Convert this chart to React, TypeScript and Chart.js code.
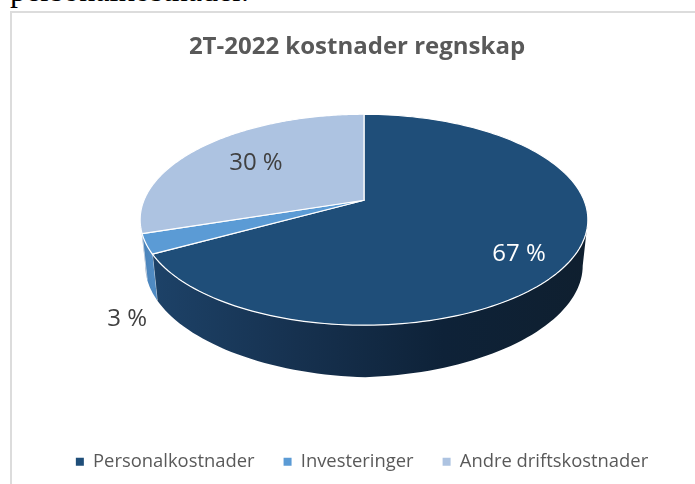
import React, { useEffect, useRef } from "react";
import { Chart, registerables } from "chart.js";

Chart.register(...registerables);

const categories = ["Personalkostnader", "Investeringer", "Andre driftskostnader"];
const shares = [67, 3, 30];
const sliceColors = ["#1f4e79", "#5b9bd5", "#adc3e1"];
const wallStops = [
  ["#1d4268", "#16314f", "#0e2238", "#0f1f2f"],
  ["#4a82b8", "#4f8ac2"],
  ["#92a6c0", "#92a6c0"],
];
const chartTitle = "2T-2022 kostnader regnskap";
const labelColors = ["#ffffff", "#404040", "#404040"];

const PERSPECTIVE = 0.1848;
const SQUASH = 0.463;
const DEPTH = 52;
const LEGEND_SHIFT = 5;
const FONT = '"Open Sans", sans-serif';

const pie3d = {
  id: "pie3d",
  afterLayout(chart: any) {
    chart.legend.left += LEGEND_SHIFT;
    chart.legend.right += LEGEND_SHIFT;
  },
  beforeDatasetDraw() {
    return false;
  },
  afterDatasetsDraw(chart: any) {
    const ctx: CanvasRenderingContext2D = chart.ctx;
    const arcs = chart.getDatasetMeta(0).data;
    const cx = chart.width * 0.5 + 7;
    const cy = chart.height * 0.3975;

    const project = (t: number, f: number, r: number) => {
      const X = Math.sin(t) * f;
      const Y = -Math.cos(t) * f;
      const d = 1 - PERSPECTIVE * Y;
      return { x: cx + (r * X) / d, y: cy + (r * SQUASH * Y) / d };
    };
    const lower = (p: { x: number; y: number }) => ({
      x: cx + (p.x - cx) * 0.977,
      y: p.y + DEPTH - (Math.abs(p.x - cx) / 224) * 6,
    });

    const wallFrom = Math.acos(-PERSPECTIVE);
    const wallTo = 2 * Math.PI - wallFrom;

    arcs.forEach((arc: any, i: number) => {
      const a0 = arc.startAngle + Math.PI / 2;
      const a1 = arc.endAngle + Math.PI / 2;
      const s = Math.max(a0, wallFrom);
      const e = Math.min(a1, wallTo);
      if (e <= s) return;
      const r = arc.outerRadius;
      const n = 80;
      const top: { x: number; y: number }[] = [];
      for (let k = 0; k <= n; k++) top.push(project(s + ((e - s) * k) / n, 1, r));
      const xs = top.map((p) => p.x);
      const grad = ctx.createLinearGradient(Math.min(...xs), 0, Math.max(...xs), 0);
      const stops = wallStops[i];
      stops.forEach((c, k) => grad.addColorStop(k / (stops.length - 1), c));
      ctx.beginPath();
      top.forEach((p, k) => (k ? ctx.lineTo(p.x, p.y) : ctx.moveTo(p.x, p.y)));
      [...top].reverse().forEach((p) => {
        const q = lower(p);
        ctx.lineTo(q.x, q.y);
      });
      ctx.closePath();
      ctx.fillStyle = grad;
      ctx.fill();
      if (e < wallTo) {
        const p = top[top.length - 1];
        const q = lower(p);
        ctx.beginPath();
        ctx.moveTo(p.x, p.y);
        ctx.lineTo(q.x, q.y);
        ctx.strokeStyle = "rgba(255,255,255,0.6)";
        ctx.lineWidth = 1;
        ctx.stroke();
      }
    });

    arcs.forEach((arc: any, i: number) => {
      const a0 = arc.startAngle + Math.PI / 2;
      const a1 = arc.endAngle + Math.PI / 2;
      const r = arc.outerRadius;
      const n = 160;
      ctx.beginPath();
      ctx.moveTo(cx, cy);
      for (let k = 0; k <= n; k++) {
        const p = project(a0 + ((a1 - a0) * k) / n, 1, r);
        ctx.lineTo(p.x, p.y);
      }
      ctx.closePath();
      ctx.fillStyle = sliceColors[i];
      ctx.fill();
      ctx.strokeStyle = "#ffffff";
      ctx.lineWidth = 1.2;
      ctx.lineJoin = "round";
      ctx.stroke();
    });

    const fractions = [0.76, 1.08, 0.65];
    const lifts = [11, 71, -1];
    ctx.font = `24px ${FONT}`;
    ctx.textAlign = "center";
    ctx.textBaseline = "middle";
    arcs.forEach((arc: any, i: number) => {
      const mid = (arc.startAngle + arc.endAngle) / 2 + Math.PI / 2;
      const p = project(mid, fractions[i], arc.outerRadius);
      ctx.fillStyle = labelColors[i];
      ctx.fillText(`${shares[i]} %`, p.x, p.y + lifts[i]);
    });
  },
};

export default function App() {
  const ref = useRef<HTMLCanvasElement>(null);
  useEffect(() => {
    const chart = new Chart(ref.current!, {
      type: "pie",
      data: {
        labels: categories,
        datasets: [{ data: shares, backgroundColor: sliceColors, borderWidth: 0, radius: 220 }],
      },
      options: {
        animation: false,
        responsive: false,
        layout: { padding: { bottom: 3 } },
        plugins: {
          title: {
            display: true,
            text: chartTitle,
            color: "#595959",
            font: { family: FONT, size: 24, weight: "bold" },
            padding: { top: 20, bottom: 10 },
          },
          legend: {
            position: "bottom",
            labels: {
              color: "#595959",
              font: { family: FONT, size: 18.4 },
              boxWidth: 8,
              boxHeight: 8,
              padding: 29,
            },
          },
          tooltip: { enabled: false },
        },
      },
      plugins: [pie3d],
    } as any);
    return () => chart.destroy();
  }, []);
  return (
    <div style={{ position: "fixed", inset: 0, overflow: "hidden", background: "#fff" }}>
      <div
        style={{
          position: "absolute",
          left: 10,
          top: -28,
          font: '32px "Liberation Serif", serif',
          color: "#000",
          whiteSpace: "nowrap",
        }}
      >
        personalkostnader.
      </div>
      <div
        style={{
          position: "absolute",
          left: 10,
          top: 11,
          right: 0,
          bottom: 0,
          borderTop: "2px solid #dcdcdc",
          borderLeft: "2px solid #dcdcdc",
        }}
      />
      <canvas
        ref={ref}
        width={676}
        height={471}
        style={{ position: "absolute", left: 19, top: 13, width: 676, height: 471 }}
      />
    </div>
  );
}
